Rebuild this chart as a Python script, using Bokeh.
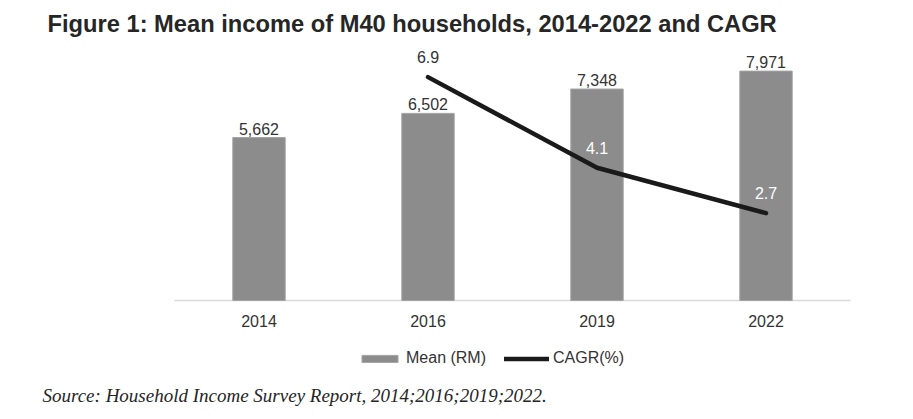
from bokeh.plotting import figure
from bokeh.models import (ColumnDataSource, Range1d, LabelSet, Label,
                          Legend, LegendItem)
from bokeh.core.properties import value
from bokeh.embed import file_html
from bokeh.resources import INLINE

# ---- data ----
years = ["2014", "2016", "2019", "2022"]
mean_income = [5662, 6502, 7348, 7971]
cagr_years = ["2016", "2019", "2022"]
cagr = [6.9, 4.1, 2.7]

title_text = "Figure 1: Mean income of M40 households, 2014-2022 and CAGR"
source_text = "Source: Household Income Survey Report, 2014;2016;2019;2022."

# ---- styles ----
SANS = "Liberation Sans"
SERIF = "Liberation Serif"
TXT = "#333333"
BAR = "#8c8c8c"
cagr_label_colors = [TXT, "white", "white"]

W, H = 913, 419
PLOT_L, PLOT_R = 174, 850      # plot area in pixels
BASE, TOP = 300, 41            # baseline and top of value area (from top)

x_pos = list(range(len(years)))
cagr_pos = [years.index(y) for y in cagr_years]
step = (PLOT_R - PLOT_L) / len(years)
x_start = -0.5 - PLOT_L / step
x_end = x_start + W / step
y_max = 9000
px_per = (BASE - TOP) / y_max
c_max = 8
c_px = (BASE - TOP) / c_max

bar_src = ColumnDataSource(dict(x=x_pos, y=mean_income,
                                lab=[f"{v:,}" for v in mean_income]))
line_src = ColumnDataSource(dict(x=cagr_pos, y=cagr,
                                 lab=[f"{v:.1f}" for v in cagr],
                                 col=cagr_label_colors))
tick_src = ColumnDataSource(dict(x=x_pos, y=[0] * len(years), lab=years))

p = figure(x_range=Range1d(x_start, x_end),
           y_range=Range1d(-(H - BASE) / px_per, BASE / px_per),
           width=W, height=H,
           min_border=0, min_border_left=0, min_border_right=0,
           min_border_top=0, min_border_bottom=0,
           x_axis_location=None, y_axis_location=None,
           output_backend="svg", toolbar_location=None)
p.extra_y_ranges = {"cagr": Range1d(-(H - BASE) / c_px, BASE / c_px)}

p.outline_line_color = None
p.xgrid.visible = False
p.ygrid.visible = False
p.background_fill_color = "white"
p.border_fill_color = "white"

# category axis line
p.segment(x0=[x_pos[0] - 0.5], x1=[x_pos[-1] + 0.5], y0=[0], y1=[0],
          line_color="#d9d9d9", line_width=1.5)

bars = p.vbar(x="x", top="y", width=0.31, source=bar_src,
              fill_color=BAR, line_color="#a3a3a3", line_width=1)
ln = p.line(x="x", y="y", source=line_src, y_range_name="cagr",
            line_color="#1a1a1a", line_width=4.5, line_cap="round", line_join="round")

# category tick labels
p.add_layout(LabelSet(x="x", y="y", text="lab", source=tick_src,
                      text_align="center", text_baseline="middle", y_offset=-20,
                      text_font=value(SANS), text_font_size="16px", text_color=TXT))

p.add_layout(LabelSet(x="x", y="y", text="lab", source=bar_src,
                      text_align="center", text_baseline="alphabetic", y_offset=3,
                      text_font=value(SANS), text_font_size="16px", text_color=TXT))
p.add_layout(LabelSet(x="x", y="y", text="lab", source=line_src, y_range_name="cagr",
                      text_align="center", text_baseline="alphabetic", y_offset=14,
                      text_font=value(SANS), text_font_size="16px", text_color="col"))

legend = Legend(items=[LegendItem(label="Mean (RM)", renderers=[bars]),
                       LegendItem(label="CAGR(%)", renderers=[ln])],
                orientation="horizontal", location=(357, 52),
                glyph_width=45, glyph_height=9, label_standoff=4, spacing=18,
                padding=0, margin=0, border_line_color=None,
                background_fill_alpha=0,
                label_text_font=SANS, label_text_font_size="16px",
                label_text_color=TXT)
p.add_layout(legend, "center")

p.add_layout(Label(x=47, y=H - 23, x_units="screen", y_units="screen",
                   text=title_text, text_font=SANS, text_font_size="23.7px",
                   text_font_style="bold", text_color="#262626",
                   text_baseline="middle", text_align="left"))
p.add_layout(Label(x=42, y=H - 395, x_units="screen", y_units="screen",
                   text=source_text, text_font=SERIF, text_font_size="19px",
                   text_font_style="italic", text_color="#262626",
                   text_baseline="middle", text_align="left"))

open("out.html", "w").write(file_html(p, INLINE))
